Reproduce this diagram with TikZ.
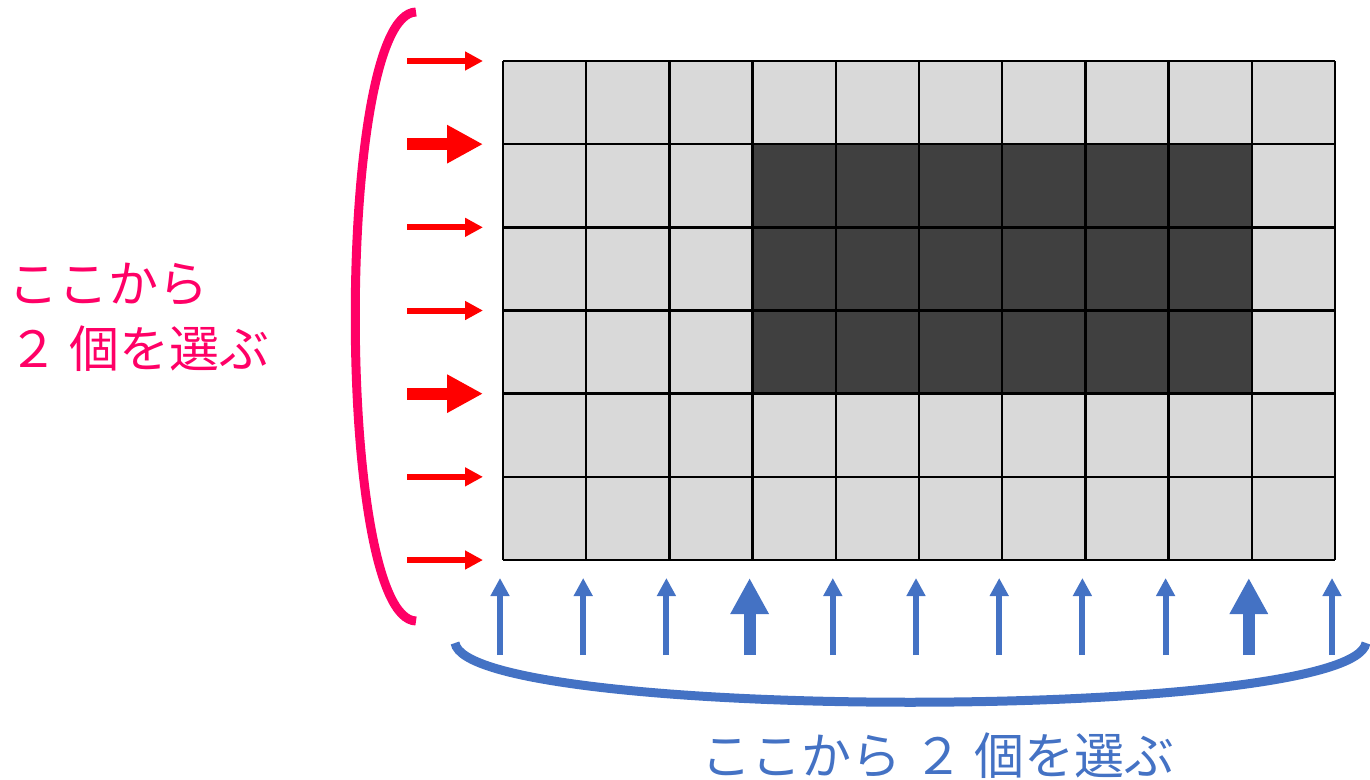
\documentclass[tikz,border=0pt]{standalone}
\usepackage{fontspec}
\newfontfamily\jp{Noto Sans CJK JP}
\usetikzlibrary{arrows.meta}
\definecolor{pinkc}{HTML}{FF0066}
\definecolor{redc}{HTML}{FF0000}
\definecolor{bluec}{HTML}{4472C4}
\definecolor{lightc}{HTML}{D9D9D9}
\definecolor{darkc}{HTML}{404040}
\tikzset{
  thinarrow/.style={line width=3pt, -{Triangle[length=9pt,width=9pt]}},
  thickarrow/.style={line width=6pt, -{Triangle[length=18pt,width=18pt]}},
  bracket/.style={line width=4.5pt, line cap=butt},
  lbl/.style={font=\jp\fontsize{25pt}{32.5pt}\selectfont, inner sep=0pt}
}
\begin{document}
\begin{tikzpicture}[x=0.5pt,y=-0.5pt]
\useasboundingbox (0,0) rectangle (1370,780);
% grid
\fill[lightc] (503,61) rectangle (1335,560);
\fill[darkc] (752.6,144.2) rectangle (1251.8,393.7);
\foreach \i in {0,...,10} {
  \draw[line width=1.25pt] (503+83.2*\i,61) -- (503+83.2*\i,560);
}
\foreach \j in {0,...,6} {
  \draw[line width=1.25pt] (503,61+83.17*\j) -- (1335,61+83.17*\j);
}
% red arrows
\foreach \j in {0,2,3,5,6} {
  \coordinate (rs\j) at (407,61+83.17*\j);
  \coordinate (re\j) at (483,61+83.17*\j);
  \draw[redc, thinarrow] (rs\j) -- (re\j);
}
\foreach \j in {1,4} {
  \coordinate (rs\j) at (407,61+83.17*\j);
  \coordinate (re\j) at (483,61+83.17*\j);
  \draw[redc, thickarrow] (rs\j) -- (re\j);
}
% blue arrows
\foreach \i in {0,1,2,4,5,6,7,8,10} {
  \coordinate (bs\i) at (503+83.2*\i-3,655);
  \coordinate (be\i) at (503+83.2*\i-3,578);
  \draw[bluec, thinarrow] (bs\i) -- (be\i);
}
\foreach \i in {3,9} {
  \coordinate (bs\i) at (503+83.2*\i-3,655);
  \coordinate (be\i) at (503+83.2*\i-3,578);
  \draw[bluec, thickarrow] (bs\i) -- (be\i);
}
% brackets
\coordinate (pa) at (416,12);
\coordinate (pb) at (416,621);
\draw[pinkc, bracket] (pa) .. controls (335,14) and (335,619) .. (pb);
\coordinate (ba) at (455,643);
\coordinate (bb) at (1366,643);
\draw[bluec, bracket] (ba) .. controls (468,722) and (1352,722) .. (bb);
% labels
\node[lbl, text=pinkc, anchor=base west] (t1) at (8,303) {ここから};
\node[lbl, text=pinkc, anchor=base west] (t2) at (8,368) {２ 個を選ぶ};
\node[lbl, text=bluec, anchor=base] (t3) at (938,774) {ここから ２ 個を選ぶ};
\end{tikzpicture}
\end{document}
